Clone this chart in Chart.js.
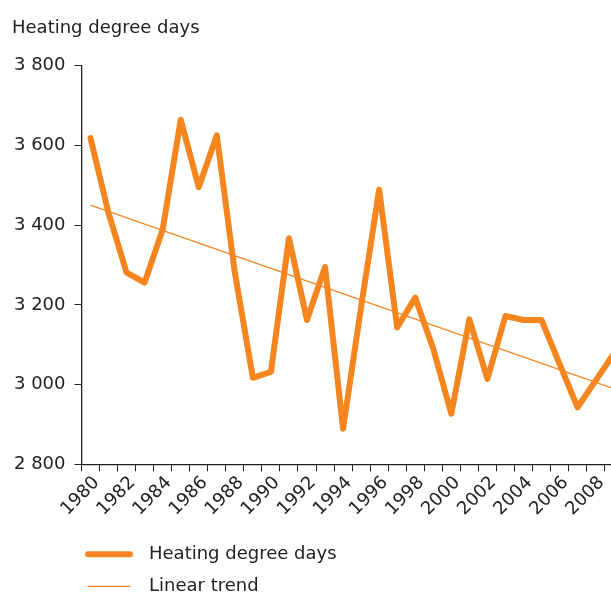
<!DOCTYPE html>
<html>
<head>
<meta charset="utf-8">
<title>Heating degree days</title>
<script src="https://cdn.jsdelivr.net/npm/chart.js@4.4.0/dist/chart.umd.min.js"></script>
<style>
  html, body { margin: 0; padding: 0; background: #fff; overflow: hidden; }
  canvas { display: block; }
</style>
</head>
<body>
<canvas id="hddChart" width="630" height="595"></canvas>
<script>
// yearly heating degree days, 1980-2009
let years = ["1980", "1981", "1982", "1983", "1984", "1985", "1986", "1987", "1988", "1989",
             "1990", "1991", "1992", "1993", "1994", "1995", "1996", "1997", "1998", "1999",
             "2000", "2001", "2002", "2003", "2004", "2005", "2006", "2007", "2008", "2009"];
let hdd = [3618, 3430, 3281, 3256, 3389, 3664, 3495, 3625, 3281, 3017,
           3032, 3367, 3162, 3295, 2889, 3195, 3489, 3143, 3218, 3090,
           2927, 3164, 3014, 3172, 3162, 3162, 3052, 2943, 3010, 3077];

// linear trend, first and last year
let trendStart = 3450;
let trendEnd = 2990;

let yTicks = [2800, 3000, 3200, 3400, 3600, 3800];

let orange = "#f5861f";
let textColor = "#222222";
let fontFamily = "'DejaVu Sans', Verdana, sans-serif";

let trendData = years.map(function (y, i) {
    if (i === 0) return trendStart;
    if (i === years.length - 1) return trendEnd;
    return null;
});

function spaced(v) {
    let s = String(v);
    return s.length > 3 ? s.slice(0, s.length - 3) + " " + s.slice(-3) : s;
}

// legend drawn under the axis, one entry per row
const lineLegend = {
    id: "lineLegend",
    afterDraw(chart) {
        let ctx = chart.ctx;
        let top = chart.chartArea.bottom + 90;
        ctx.save();
        ctx.font = "18px " + fontFamily;
        ctx.textBaseline = "middle";
        ctx.fillStyle = textColor;
        chart.data.datasets.forEach(function (ds, i) {
            let y = top + i * 32;
            ctx.beginPath();
            ctx.strokeStyle = ds.borderColor;
            ctx.lineWidth = ds.borderWidth;
            ctx.lineCap = "round";
            ctx.moveTo(88, y);
            ctx.lineTo(130, y);
            ctx.stroke();
            ctx.fillText(ds.label, 149, y);
        });
        ctx.restore();
    }
};

let ctx1 = document.getElementById("hddChart").getContext("2d");
let myChart = new Chart(ctx1, {
    type: "line",
    data: {
        labels: years,
        datasets: [{
            label: "Heating degree days",
            data: hdd,
            borderColor: orange,
            borderWidth: 6,
            borderJoinStyle: "round",
            borderCapStyle: "round",
            pointRadius: 0,
            tension: 0,
            fill: false
        }, {
            label: "Linear trend",
            data: trendData,
            spanGaps: true,
            borderColor: orange,
            borderWidth: 1.2,
            pointRadius: 0,
            tension: 0,
            fill: false
        }]
    },
    options: {
        responsive: false,
        animation: false,
        devicePixelRatio: 1,
        layout: { padding: { left: 12, right: 4, top: 0, bottom: 74 } },
        plugins: {
            legend: { display: false },
            tooltip: { enabled: false },
            title: {
                display: true,
                text: "Heating degree days",
                align: "start",
                color: textColor,
                font: { family: fontFamily, size: 18, weight: "normal" },
                padding: { top: 18, bottom: 26 }
            }
        },
        scales: {
            x: {
                offset: true,
                grid: { drawOnChartArea: false, tickLength: 7, color: textColor, offset: true },
                border: { color: textColor, width: 1.3 },
                ticks: {
                    autoSkip: false,
                    maxRotation: 45,
                    minRotation: 45,
                    padding: 1,
                    labelOffset: 6,
                    color: textColor,
                    font: { family: fontFamily, size: 18 },
                    callback: function (v, i) { return i % 2 === 0 ? years[i] : ""; }
                }
            },
            y: {
                min: yTicks[0],
                max: yTicks[yTicks.length - 1],
                afterBuildTicks: function (axis) {
                    axis.ticks = yTicks.map(function (v) { return { value: v }; });
                },
                afterFit: function (axis) {
                    axis.width = 69.5;
                },
                grid: { drawOnChartArea: false, tickLength: 7, color: textColor },
                border: { color: textColor, width: 1.3 },
                ticks: {
                    padding: 9,
                    color: textColor,
                    font: { family: fontFamily, size: 18 },
                    callback: function (v) { return spaced(v); }
                }
            }
        }
    },
    plugins: [lineLegend]
});
</script>
</body>
</html>
